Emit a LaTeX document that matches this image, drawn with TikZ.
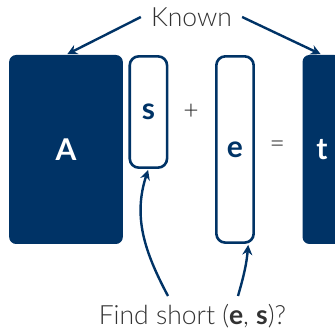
\documentclass[tikz,border=0pt]{standalone}
\usepackage{fontspec}
\setmainfont{Lato}[UprightFont=* Light, BoldFont=* Bold]
\usetikzlibrary{arrows.meta}
\definecolor{navy}{RGB}{0,51,102}
\definecolor{ink}{RGB}{50,50,50}
\tikzset{
  solidblock/.style={fill=navy, rounded corners=7pt, text=white,
    font=\fontsize{30}{36}\selectfont\bfseries},
  hollowblock/.style={draw=navy, line width=2.6pt, rounded corners=9pt,
    text=navy, minimum width=37.3pt, font=\fontsize{30}{36}\selectfont\bfseries},
  sign/.style={text=ink, font=\fontsize{26.5}{32}\selectfont},
  arr/.style={draw=navy, line width=2.4pt, -{Stealth[length=10pt,width=10pt]}},
}

\begin{document}
\begin{tikzpicture}[x=1pt,y=1pt]
		%%%%% START %%%%%
		\clip (0,0) rectangle (335,331);
		
		% the equation  A s + e = t
		\node[solidblock, minimum width=113.7pt, minimum height=189pt] (A) at (66, 181.5) {A};
		\node[hollowblock, minimum height=111.3pt] (s) at (148.4, 219) {s};
		\node[sign, text=black!85] (plus) at (191, 219) {+};
		\node[hollowblock, minimum height=186.3pt] (e) at (235, 181.5) {e};
		\node[sign, text=black!85] (equals) at (277.3, 184) {=};
		\node[solidblock, minimum width=39pt, minimum height=189pt] (t) at (322, 181.5) {t};
		
		% labels
		\node[sign, inner sep=10pt] (known) at (191.5, 314) {Known};
		\node[sign, anchor=base] (find) at (192.5, 6) {Find short (\textbf{e}, \textbf{s})?};
		
		\draw[arr, shorten >=1.5pt] (known.west) -- (A.north);
		\draw[arr, shorten >=1.5pt] (known.east) -- (t.north);
		
		\coordinate (from s) at (168, 35);
		\coordinate (from e) at (238, 35);
		\draw[arr, shorten >=1pt] (from s) to[out=118, in=-108] (s.south);
		\draw[arr, shorten >=1pt] (from e) to[out=74, in=-95] (e.-82);
		
		%%%%% END %%%%%
	\end{tikzpicture}
\end{document}
